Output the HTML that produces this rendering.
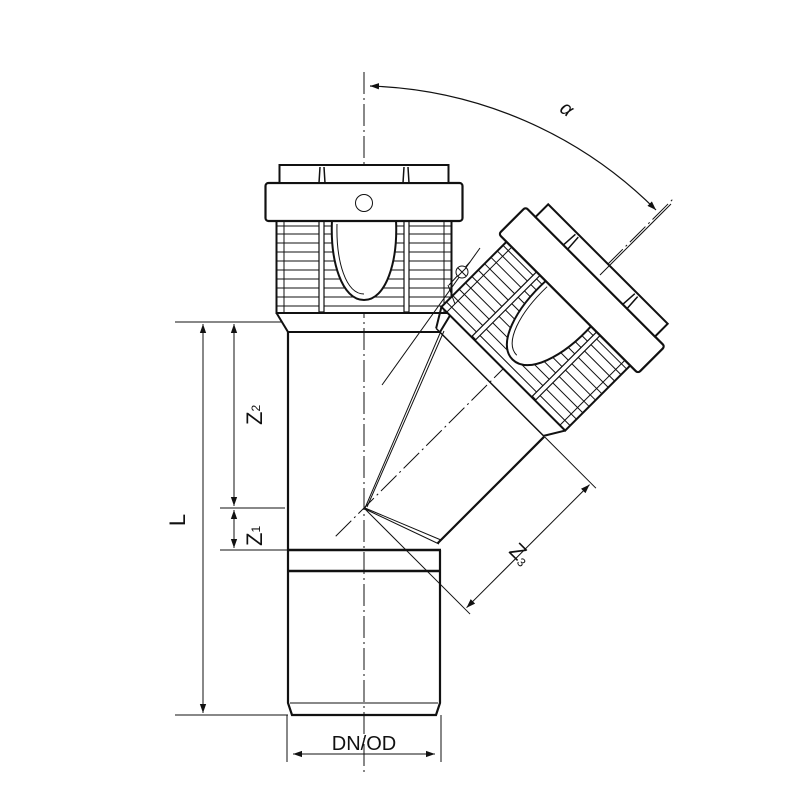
<!DOCTYPE html>
<html><head><meta charset="utf-8"><style>
html,body{margin:0;padding:0;background:#fff}
svg{display:block}
text{font-family:"Liberation Sans",sans-serif;fill:#111}
</style></head><body>
<svg width="800" height="800" viewBox="0 0 800 800" xmlns="http://www.w3.org/2000/svg">
<defs>
<marker id="ar" viewBox="0 0 10 10" refX="10" refY="5" markerWidth="9" markerHeight="9" orient="auto-start-reverse" markerUnits="userSpaceOnUse">
<path d="M0,1.5 L10,5 L0,8.5 Z" fill="#111"/></marker>
<g id="fit" stroke="#111" fill="none">
 <path d="M0,-76 L19,-87.5 M0,76 L19,87.5" stroke-width="2"/>
 <line x1="0" y1="-76" x2="0" y2="76" stroke-width="1.5"/>
 <rect x="19" y="-87.5" width="92" height="175" fill="#fff" stroke-width="2"/>
 <path stroke-width="1" d="M26,-87 V87 M35,-87 V87 M44,-87 V87 M53,-87 V87 M62,-87 V87 M71,-87 V87 M80,-87 V87 M89,-87 V87 M98,-87 V87 M106,-87 V87"/>
 <line x1="19" y1="-80" x2="111" y2="-80" stroke-width="1"/>
 <line x1="19" y1="80" x2="111" y2="80" stroke-width="1"/>
 <path d="M112,-32 C70,-34 32,-22 32,0 C32,22 70,34 112,32 Z" fill="#fff" stroke-width="2"/>
 <path d="M108,-27 C70,-28 38,-18 38,0" stroke-width="1"/>
 <rect x="20" y="-45" width="98" height="5" fill="#fff" stroke-width="1.2"/>
 <rect x="20" y="40" width="98" height="5" fill="#fff" stroke-width="1.2"/>
 <rect x="111" y="-98.5" width="38" height="197" rx="3" fill="#fff" stroke-width="2.2"/>
 <rect x="149" y="-84.5" width="18" height="169" fill="#fff" stroke-width="2"/>
 <path d="M149,-45 L165,-44 M149,-39 L165,-40 M149,39 L165,40 M149,45 L165,44" stroke-width="1.5"/>
</g>
</defs>

<line x1="364" y1="72" x2="364" y2="772" stroke="#111" stroke-width="1" stroke-dasharray="22,4,2,4"/>

<g stroke="#111" fill="none">
 <path d="M288,332 L288,703 L292,715 L436,715 L440,703 L440,550" stroke-width="2.2"/>
 <line x1="290" y1="703" x2="438" y2="703" stroke-width="1"/>
 <line x1="288" y1="550" x2="441" y2="550" stroke-width="2.5"/>
 <line x1="288" y1="571" x2="441" y2="571" stroke-width="2.5"/>
 <line x1="288" y1="332" x2="440" y2="332" stroke-width="2"/>
</g>

<use href="#fit" transform="translate(364,332) rotate(-90)"/>
<circle cx="364" cy="203" r="8.5" fill="#fff" stroke="#111" stroke-width="1"/>

<g transform="translate(364,508) rotate(-45)" stroke="#111" fill="none">
 <line x1="27" y1="77" x2="178" y2="77" stroke-width="2.2"/>
 <line x1="-40" y1="0" x2="440" y2="0" stroke-width="1" stroke-dasharray="22,4,2,4"/>
 <line x1="0" y1="0" x2="0" y2="150" stroke-width="1"/>
 <line x1="178" y1="78" x2="178" y2="150" stroke-width="1"/>
 <line x1="2" y1="143" x2="176" y2="143" stroke-width="1" marker-start="url(#ar)" marker-end="url(#ar)"/>
</g>
<g transform="translate(364,508) rotate(-45) translate(178,0)"><use href="#fit"/></g>

<g stroke="#111" fill="none" stroke-width="1">
 <path d="M365,508 L441,331 M367,507 L444,331"/>
 <path d="M365,508 L441,540 M365,509 L439,544"/>
 <path d="M382,385 L480,248"/>
 <path d="M449,285 L470,262 M455,304 L448,285"/>
 <circle cx="462" cy="272" r="6" fill="#fff"/>
 <path d="M458,268 L466,276 M466,268 L458,276"/>
</g>

<path d="M656,210 A423,423 0 0 0 370,86" stroke="#111" stroke-width="1.2" fill="none" marker-start="url(#ar)" marker-end="url(#ar)"/>
<line x1="600" y1="275" x2="671" y2="204" stroke="#111" stroke-width="1"/>
<text x="562" y="112" font-size="20" font-style="italic" transform="rotate(35 562 106)">α</text>

<g stroke="#111" stroke-width="1" fill="none">
 <line x1="175" y1="322" x2="282" y2="322"/>
 <line x1="175" y1="715" x2="288" y2="715"/>
 <line x1="220" y1="508" x2="285" y2="508"/>
 <line x1="220" y1="550" x2="288" y2="550"/>
 <line x1="203" y1="324" x2="203" y2="713" marker-start="url(#ar)" marker-end="url(#ar)"/>
 <line x1="234" y1="324" x2="234" y2="506" marker-start="url(#ar)" marker-end="url(#ar)"/>
 <line x1="234" y1="510" x2="234" y2="548" marker-start="url(#ar)" marker-end="url(#ar)"/>
 <line x1="287" y1="715" x2="287" y2="762"/>
 <line x1="441" y1="715" x2="441" y2="762"/>
 <line x1="293" y1="754" x2="435" y2="754" marker-start="url(#ar)" marker-end="url(#ar)"/>
</g>
<text x="185" y="520" font-size="22" transform="rotate(-90 185 520)" text-anchor="middle">L</text>
<text x="262" y="425" font-size="22" transform="rotate(-90 262 425)">Z<tspan font-size="12" dy="-2">2</tspan></text>
<text x="262" y="546" font-size="22" transform="rotate(-90 262 546)">Z<tspan font-size="12" dy="-2">1</tspan></text>
<text x="364" y="750" font-size="20" text-anchor="middle">DN/OD</text>
<text x="508" y="552" font-size="22" transform="rotate(45 508 552)">Z<tspan font-size="12" dy="2">3</tspan></text>
</svg>
</body></html>
